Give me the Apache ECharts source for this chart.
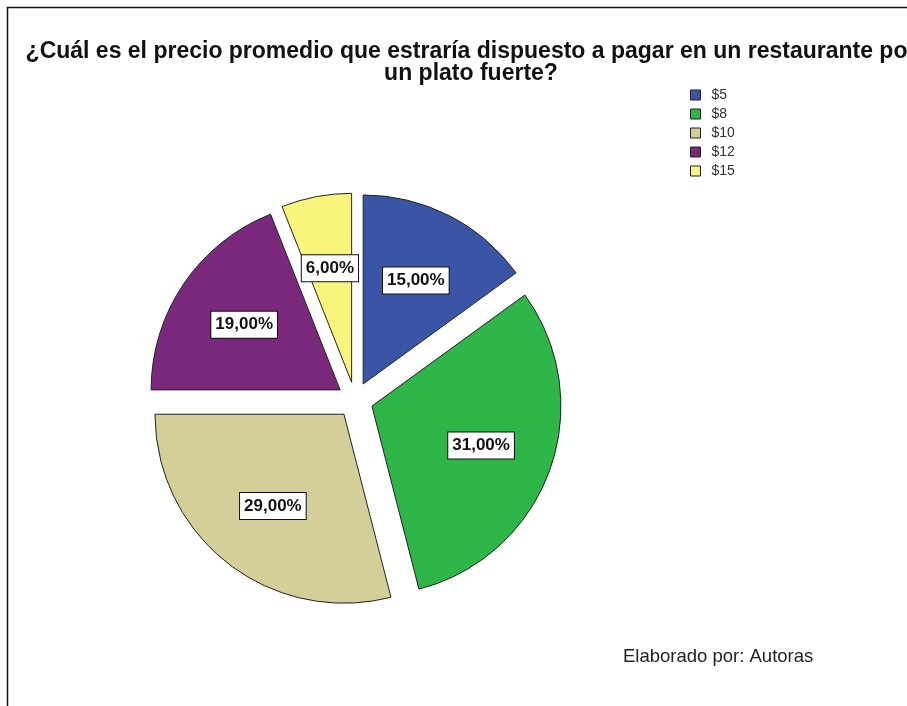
<!DOCTYPE html>
<html>
<head>
<meta charset="utf-8">
<script src="https://cdn.jsdelivr.net/npm/echarts@6/dist/echarts.min.js"></script>
<style>
  html, body { margin: 0; padding: 0; background: #fff; }
  #chart { width: 907px; height: 706px; }
</style>
</head>
<body>
<div id="chart"></div>
<script>
// Price categories and share of respondents (%)
const categories = ['$5', '$8', '$10', '$12', '$15'];
const shares = [15, 31, 29, 19, 6];
const colors = ['#3b55a6', '#2fb649', '#d4cf98', '#7a287c', '#f8f47c'];

const titleText = '¿Cuál es el precio promedio que estraría dispuesto a pagar en un restaurante por\nun plato fuerte?';
const footnote = 'Elaborado por: Autoras';

const fmt = v => v.toFixed(2).replace('.', ',') + '%';

const chart = echarts.init(document.getElementById('chart'), null, { renderer: 'canvas' });

const sliceData = categories.map((c, i) => ({
  name: c,
  value: shares[i],
  selected: true,
  itemStyle: { color: colors[i] }
}));

const labelData = categories.map((c, i) => ({
  name: c,
  value: shares[i],
  selected: true
}));

chart.setOption({
  backgroundColor: '#ffffff',
  animation: false,
  title: {
    text: titleText,
    left: 466,
    textAlign: 'center',
    top: 36,
    textStyle: {
      fontFamily: 'Liberation Sans, Arial, sans-serif',
      fontSize: 23,
      fontWeight: 'bold',
      color: '#111',
      lineHeight: 21.5
    }
  },
  legend: {
    orient: 'vertical',
    left: 685,
    top: 83,
    icon: 'rect',
    itemWidth: 10,
    itemHeight: 10,
    itemGap: 5,
    selectedMode: false,
    data: categories,
    itemStyle: { borderColor: '#222', borderWidth: 1 },
    textStyle: {
      fontFamily: 'Liberation Sans, Arial, sans-serif',
      fontSize: 14,
      color: '#333',
      padding: [0, 0, 0, 6]
    }
  },
  graphic: [
    {
      type: 'rect',
      shape: { x: 7.5, y: 7.5, width: 1000, height: 800 },
      style: { fill: 'none', stroke: '#111', lineWidth: 1.5 },
      silent: true
    },
    {
      type: 'text',
      left: 623,
      top: 647,
      style: {
        text: footnote,
        font: '18.5px "Liberation Sans", Arial, sans-serif',
        fill: '#222'
      }
    }
  ],
  series: [
    {
      type: 'pie',
      center: [355, 400],
      radius: [0, 189],
      startAngle: 90,
      clockwise: true,
      selectedMode: 'multiple',
      selectedOffset: 18,
      silent: true,
      label: { show: false },
      labelLine: { show: false },
      itemStyle: { borderColor: '#222', borderWidth: 1 },
      emphasis: { disabled: true },
      data: sliceData
    },
    {
      // transparent companion ring that only carries the percentage labels
      type: 'pie',
      center: [355, 400],
      radius: [0, 226],
      startAngle: 90,
      clockwise: true,
      selectedMode: 'multiple',
      selectedOffset: 18,
      silent: true,
      legendHoverLink: false,
      itemStyle: { color: 'rgba(0,0,0,0)', borderWidth: 0 },
      emphasis: { disabled: true },
      labelLine: { show: false },
      label: {
        show: true,
        position: 'inner',
        formatter: p => fmt(p.value),
        fontFamily: 'Liberation Sans, Arial, sans-serif',
        fontSize: 17,
        fontWeight: 'bold',
        color: '#111',
        backgroundColor: '#ffffff',
        borderColor: '#111',
        borderWidth: 1,
        padding: [5, 4, 4, 4]
      },
      data: labelData
    }
  ]
});
</script>
</body>
</html>
